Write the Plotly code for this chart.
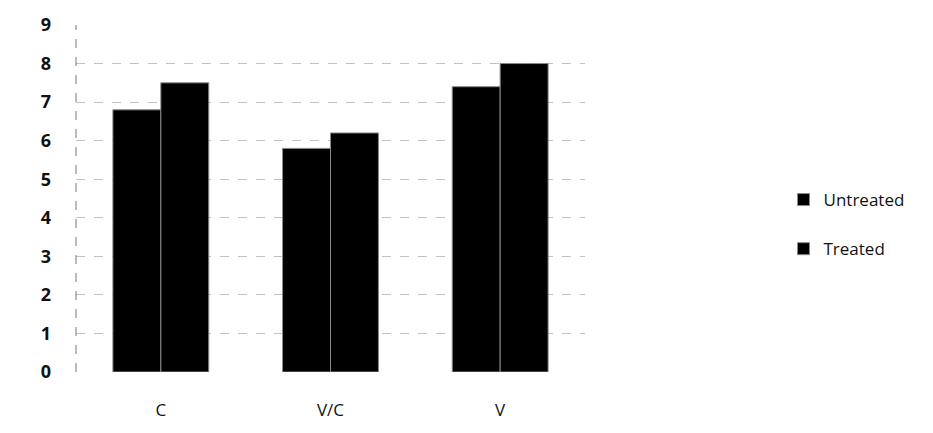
import plotly.graph_objects as go

categories = ["C", "V/C", "V"]
untreated = [6.8, 5.8, 7.4]
treated = [7.5, 6.2, 8.0]
y_ticks = list(range(0, 10))

fig = go.Figure()
fig.add_trace(go.Bar(
    name="Untreated", x=categories, y=untreated, legendgroup="u",
    marker=dict(color="#000000", line=dict(color="#888888", width=1)),
))
fig.add_trace(go.Bar(
    name="Treated", x=categories, y=treated, legendgroup="t",
    marker=dict(color="#000000", line=dict(color="#888888", width=1)),
))

# faint dashed vertical axis line on the left of the plot area
fig.add_shape(
    type="line", xref="paper", yref="paper", x0=0, x1=0, y0=0, y1=1,
    line=dict(color="#777777", width=1, dash="dash"),
)

fig.update_layout(
    width=933, height=433,
    margin=dict(l=76, r=348, t=18, b=59),
    paper_bgcolor="white", plot_bgcolor="white",
    barmode="group", bargap=0.435, bargroupgap=0,
    font=dict(family="Open Sans", color="#111111"),
    showlegend=True,
    legend=dict(
        x=1.39, y=0.425, xanchor="left", yanchor="middle",
        font=dict(size=17, family="Open Sans", color="#111111"),
        tracegroupgap=24, itemwidth=30,
    ),
    xaxis=dict(
        showgrid=False, showline=False, zeroline=False,
        ticks="", ticklabelstandoff=26,
        tickfont=dict(size=17, family="Open Sans"),
    ),
    yaxis=dict(
        range=[0, 9], tickvals=y_ticks,
        showgrid=True, gridcolor="#c2c2c2", griddash="dash", gridwidth=1,
        zeroline=False, showline=False,
        ticks="", ticklabelstandoff=24,
        tickfont=dict(size=18, family="Open Sans", weight="bold"),
    ),
)

fig.write_html("out.html")
